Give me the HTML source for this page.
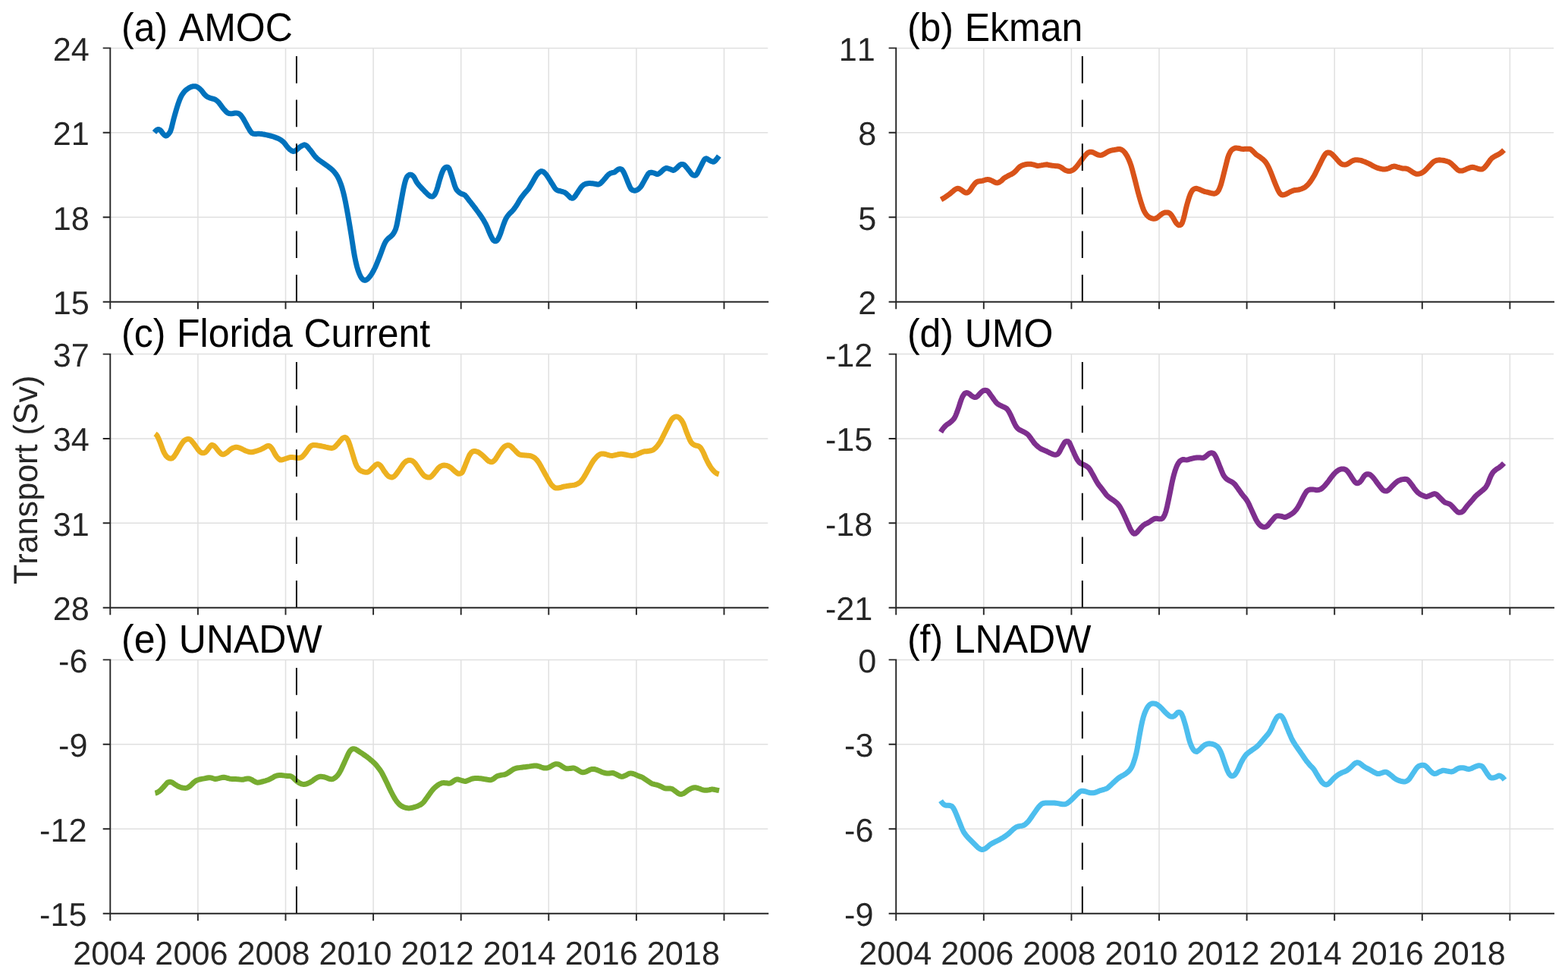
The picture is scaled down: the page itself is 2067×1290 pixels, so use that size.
<!DOCTYPE html>
<html lang="en">
<head>
<meta charset="utf-8">
<title>Transport time series</title>
<style>
html,body{margin:0;padding:0;background:#fff;}
body{width:2067px;height:1290px;overflow:hidden;}
svg{display:block;}
text{font-family:"Liberation Sans",Arial,Helvetica,sans-serif;font-kerning:none;text-rendering:geometricPrecision;}
.tk{font-size:43.2px;fill:#262626;}
.tt{font-size:50.0px;fill:#000;word-spacing:0.8px;}
.yl{font-size:43.1px;fill:#262626;}
.g{stroke:#e0e0e0;stroke-width:1.5;fill:none;}
.ax{stroke:#262626;stroke-width:1.9;fill:none;}
.dl{stroke:#000;stroke-width:1.9;fill:none;}
.cv{fill:none;stroke-width:7.0;stroke-linejoin:round;stroke-linecap:butt;}
</style>
</head>
<body>
<svg width="2067" height="1290" viewBox="0 0 2067 1290" role="img" aria-label="Transport time series, six panels">
<rect x="0" y="0" width="2067" height="1290" fill="#fff"/>
<g id="panel-a">
<path class="g" d="M260.9 63.4V397.7M376.5 63.4V397.7M492.1 63.4V397.7M607.7 63.4V397.7M723.3 63.4V397.7M838.9 63.4V397.7M954.5 63.4V397.7M145.3 63.4H1012.3M145.3 174.8H1012.3M145.3 286.3H1012.3"/>
<path class="cv" stroke="#0072BD" d="M203.5 174.5L205 172.7L206.5 171.4L208 170.6L209.5 170.5L211 171.3L212.5 172.8L214 175L215.5 176.8L217 178.2L218.5 179.1L220 178.7L221.5 177.3L223 175.7L224.5 173.3L226 168.9L227.5 162.7L229 156.6L230.5 151.3L232 146L233.5 141L235 136.4L236.5 132.2L238 128.6L239.5 125.7L241 123.3L242.5 121.3L244 119.7L245.5 118.4L247 117.3L248.5 116.2L250 115.3L251.5 114.6L253 114.1L254.5 113.8L256 113.7L257.5 113.7L259 114.1L260.5 114.8L262 115.8L263.5 117.1L265 118.6L266.5 120.3L268 122.3L269.5 124.3L271 125.8L272.5 127L274 127.9L275.5 128.6L277 129.2L278.5 129.6L280 130L281.5 130.4L283 130.9L284.5 131.7L286 132.8L287.5 134.1L289 135.8L290.5 137.8L292 139.9L293.5 141.9L295 143.7L296.5 145.4L298 147L299.5 148.3L301 149.1L302.5 149.6L304 149.8L305.5 149.7L307 149.5L308.5 149.2L310 148.9L311.5 148.9L313 149.1L314.5 149.6L316 150.5L317.5 151.9L319 153.8L320.5 156.1L322 158.7L323.5 161.4L325 164.2L326.5 167L328 169.6L329.5 172.1L331 174.2L332.5 175.6L334 176.2L335.5 176.4L337 176.5L338.5 176.4L340 176.2L341.5 176.2L343 176.4L344.5 176.5L346 176.8L347.5 177L349 177.3L350.5 177.6L352 177.9L353.5 178.3L355 178.6L356.5 179L358 179.4L359.5 179.8L361 180.3L362.5 180.9L364 181.4L365.5 182L367 182.7L368.5 183.4L370 184.3L371.5 185.4L373 186.6L374.5 188L376 189.9L377.5 191.9L379 193.8L380.5 195.5L382 196.9L383.5 198L385 198.9L386.5 199.4L388 199.3L389.5 198.6L391 197.4L392.5 196.1L394 194.8L395.5 193.6L397 192.6L398.5 191.8L400 191.1L401.5 190.8L403 191.3L404.5 192.4L406 194L407.5 195.9L409 197.7L410.5 199.7L412 201.7L413.5 203.8L415 205.7L416.5 207.4L418 208.8L419.5 210.1L421 211.2L422.5 212.3L424 213.4L425.5 214.4L427 215.5L428.5 216.5L430 217.6L431.5 218.6L433 219.7L434.5 220.9L436 222.1L437.5 223.4L439 224.8L440.5 226.4L442 228.3L443.5 230.4L445 232.7L446.5 235.7L448 239.2L449.5 243.1L451 247.7L452.5 253.1L454 259.4L455.5 266.5L457 274.4L458.5 282.6L460 291.4L461.5 300.3L463 309.5L464.5 319.3L466 329.1L467.5 337.8L469 345.1L470.5 351.2L472 356.2L473.5 360.3L475 363.7L476.5 366.3L478 368.1L479.5 369.1L481 369.4L482.5 369L484 368.1L485.5 366.7L487 365L488.5 363.1L490 360.9L491.5 358.3L493 355.5L494.5 352.5L496 349.1L497.5 345.4L499 341.7L500.5 337.9L502 334L503.5 329.9L505 325.8L506.5 322L508 318.9L509.5 316.7L511 315L512.5 313.6L514 312.5L515.5 311.3L517 309.8L518.5 307.8L520 305.4L521.5 302.1L523 296.8L524.5 289L526 280.7L527.5 272.5L529 264.2L530.5 256L532 248.1L533.5 241.5L535 236.3L536.5 233.1L538 231.3L539.5 230.3L541 230.1L542.5 230.5L544 231.5L545.5 233L547 235.6L548.5 238.6L550 241.1L551.5 242.9L553 244.7L554.5 246.4L556 248L557.5 249.6L559 251.2L560.5 252.8L562 254.3L563.5 255.7L565 257.1L566.5 258.3L568 258.9L569.5 259.1L571 258.6L572.5 257.1L574 254.6L575.5 251L577 246.2L578.5 240.8L580 235.6L581.5 230.9L583 226.7L584.5 223.5L586 221.6L587.5 220.4L589 220.1L590.5 220.5L592 222L593.5 225.8L595 230.3L596.5 235L598 240L599.5 244.8L601 248.5L602.5 250.8L604 252.3L605.5 253.6L607 254.7L608.5 255.5L610 255.9L611.5 256.4L613 257.3L614.5 259L616 260.9L617.5 262.8L619 264.8L620.5 266.7L622 268.6L623.5 270.5L625 272.5L626.5 274.4L628 276.5L629.5 278.5L631 280.5L632.5 282.6L634 284.8L635.5 287L637 289.3L638.5 291.9L640 294.6L641.5 297.7L643 301.2L644.5 304.9L646 308.4L647.5 311.6L649 314.5L650.5 316.7L652 317.7L653.5 317.8L655 317.1L656.5 315.1L658 312.1L659.5 308.5L661 304.1L662.5 299.5L664 295.2L665.5 291.2L667 288L668.5 285.5L670 283.5L671.5 281.8L673 280.3L674.5 278.9L676 277.2L677.5 275.4L679 273.4L680.5 271.2L682 268.9L683.5 266.3L685 263.7L686.5 261.4L688 259.3L689.5 257.3L691 255.4L692.5 253.6L694 252L695.5 250.3L697 248.3L698.5 245.9L700 243.4L701.5 240.9L703 238.2L704.5 235.5L706 232.9L707.5 230.6L709 228.8L710.5 227.3L712 226.2L713.5 225.6L715 225.8L716.5 226.5L718 227.8L719.5 229.4L721 231.3L722.5 233.6L724 236L725.5 238.4L727 240.8L728.5 243.2L730 245.6L731.5 248L733 249.7L734.5 250.7L736 251.2L737.5 251.5L739 251.9L740.5 252.3L742 252.7L743.5 253.2L745 253.9L746.5 255.1L748 256.5L749.5 257.9L751 259.5L752.5 260.8L754 261.3L755.5 261L757 259.9L758.5 258L760 255.7L761.5 253.5L763 251.2L764.5 249L766 246.8L767.5 245.1L769 243.8L770.5 242.9L772 242.3L773.5 242L775 241.7L776.5 241.6L778 241.6L779.5 241.7L781 241.8L782.5 242L784 242.2L785.5 242.5L787 242.9L788.5 243L790 242.6L791.5 241.7L793 240.3L794.5 238.7L796 237L797.5 235.2L799 233.4L800.5 231.6L802 230.1L803.5 229L805 228.2L806.5 227.7L808 227.4L809.5 227.1L811 226.3L812.5 224.9L814 223.7L815.5 223L817 222.6L818.5 222.7L820 223.6L821.5 225.7L823 228.6L824.5 232.1L826 235.8L827.5 239.6L829 243.3L830.5 246.6L832 249.3L833.5 250.4L835 250.9L836.5 251.2L838 251L839.5 250.5L841 249.7L842.5 248.4L844 246.9L845.5 244.9L847 242.3L848.5 239.6L850 236.8L851.5 234.2L853 231.5L854.5 229.1L856 227.7L857.5 227.3L859 227.3L860.5 227.6L862 227.9L863.5 228.5L865 229.2L866.5 229.5L868 229.1L869.5 228.1L871 226.9L872.5 225.5L874 224L875.5 222.8L877 221.9L878.5 221.5L880 221.7L881.5 222.2L883 222.7L884.5 223.3L886 223.9L887.5 224.4L889 223.9L890.5 222.8L892 221.6L893.5 220L895 218.4L896.5 217.2L898 216.6L899.5 216.5L901 216.7L902.5 217.7L904 219.4L905.5 221.2L907 223.1L908.5 225L910 227L911.5 229L913 230.4L914.5 231.1L916 231.3L917.5 230.7L919 228.8L920.5 225.9L922 222.9L923.5 219.9L925 216.9L926.5 213.9L928 211.1L929.5 209.3L931 208.8L932.5 209.4L934 210.4L935.5 211.3L937 212.1L938.5 212.8L940 213.3L941.5 213L943 211.6L944.5 209.9L946 208L947.5 205.9L947.8 205.5"/>
<path class="dl" d="M390.9 397.7V362M390.9 340.1V304.4M390.9 282.5V246.8M390.9 224.9V189.2M390.9 167.3V131.6M390.9 109.7V74"/>
<path class="ax" d="M145.3 62.4V397.7H1013.2M145.3 397.7V407.3M260.9 397.7V407.3M376.5 397.7V407.3M492.1 397.7V407.3M607.7 397.7V407.3M723.3 397.7V407.3M838.9 397.7V407.3M954.5 397.7V407.3M145.3 63.4H135.7M145.3 174.8H135.7M145.3 286.3H135.7M145.3 397.7H135.7"/>
<text class="tk" transform="translate(69.8 79.8) scale(1 1.0)">24</text>
<text class="tk" transform="translate(69.8 191.2) scale(1 1.0)">21</text>
<text class="tk" transform="translate(69.8 302.7) scale(1 1.0)">18</text>
<text class="tk" transform="translate(69.8 414.1) scale(1 1.0)">15</text>
<text class="tt" transform="translate(160 53.7) scale(1 1.05)">(a) AMOC</text>
</g>
<g id="panel-b">
<path class="g" d="M1296.8 63.4V397.7M1412.4 63.4V397.7M1528 63.4V397.7M1643.6 63.4V397.7M1759.2 63.4V397.7M1874.8 63.4V397.7M1990.4 63.4V397.7M1181.2 63.4H2048.2M1181.2 174.8H2048.2M1181.2 286.3H2048.2"/>
<path class="cv" stroke="#D95319" d="M1240.5 263L1242 262.2L1243.5 261.3L1245 260.4L1246.5 259.4L1248 258.4L1249.5 257.3L1251 256.2L1252.5 255.1L1254 253.8L1255.5 252.6L1257 251.3L1258.5 250.1L1260 249.2L1261.5 248.5L1263 248.3L1264.5 248.7L1266 249.5L1267.5 250.4L1269 251.5L1270.5 252.7L1272 253.7L1273.5 254.1L1275 254L1276.5 253.2L1278 251.8L1279.5 249.8L1281 247.5L1282.5 245.2L1284 243.3L1285.5 241.5L1287 240.2L1288.5 239.4L1290 238.9L1291.5 238.7L1293 238.6L1294.5 238.4L1296 238L1297.5 237.5L1299 237L1300.5 236.6L1302 236.4L1303.5 236.6L1305 237.1L1306.5 237.7L1308 238.4L1309.5 239.2L1311 240L1312.5 240.7L1314 240.9L1315.5 240.8L1317 240.2L1318.5 239.3L1320 238.2L1321.5 236.7L1323 235.2L1324.5 234.2L1326 233.3L1327.5 232.5L1329 231.7L1330.5 230.9L1332 230.2L1333.5 229.5L1335 228.6L1336.5 227.5L1338 226.2L1339.5 224.7L1341 223L1342.5 221.3L1344 220L1345.5 219L1347 218.2L1348.5 217.6L1350 217.1L1351.5 216.8L1353 216.5L1354.5 216.3L1356 216.2L1357.5 216.2L1359 216.3L1360.5 216.6L1362 216.9L1363.5 217.2L1365 217.7L1366.5 218.3L1368 218.6L1369.5 218.4L1371 218.1L1372.5 217.9L1374 217.6L1375.5 217.4L1377 217.1L1378.5 216.9L1380 216.8L1381.5 217.1L1383 217.5L1384.5 217.7L1386 218L1387.5 218.2L1389 218.4L1390.5 218.6L1392 218.7L1393.5 218.8L1395 219L1396.5 219.4L1398 220.1L1399.5 221L1401 222L1402.5 223.1L1404 224.1L1405.5 224.8L1407 225.3L1408.5 225.5L1410 225.5L1411.5 225.2L1413 224.6L1414.5 223.8L1416 222.8L1417.5 221.4L1419 219.7L1420.5 217.8L1422 215.9L1423.5 213.9L1425 211.9L1426.5 209.9L1428 207.9L1429.5 206L1431 204.3L1432.5 202.7L1434 201.4L1435.5 200.6L1437 200.2L1438.5 200.3L1440 200.5L1441.5 201.1L1443 201.8L1444.5 202.6L1446 203.4L1447.5 204L1449 204.4L1450.5 204.6L1452 204.4L1453.5 203.9L1455 203.2L1456.5 202.3L1458 201.3L1459.5 200.4L1461 199.7L1462.5 199L1464 198.4L1465.5 198.1L1467 197.8L1468.5 197.6L1470 197.3L1471.5 197.1L1473 196.7L1474.5 196.4L1476 196.4L1477.5 196.8L1479 197.6L1480.5 198.6L1482 200.1L1483.5 202L1485 204.3L1486.5 207L1488 210.2L1489.5 213.8L1491 218.1L1492.5 223.2L1494 228.8L1495.5 234.5L1497 240.4L1498.5 246.5L1500 252.4L1501.5 257.9L1503 263L1504.5 267.9L1506 272.4L1507.5 276.4L1509 279.5L1510.5 281.9L1512 283.8L1513.5 285.2L1515 286.3L1516.5 287.1L1518 287.7L1519.5 288.1L1521 288.3L1522.5 288.1L1524 287.6L1525.5 286.8L1527 285.7L1528.5 284.4L1530 283.1L1531.5 282L1533 281.1L1534.5 280.4L1536 280L1537.5 279.9L1539 280L1540.5 280.3L1542 281.1L1543.5 282.5L1545 284.6L1546.5 286.9L1548 289.6L1549.5 292.3L1551 294.4L1552.5 295.9L1554 296.8L1555.5 296.6L1557 295.8L1558.5 293.5L1560 289L1561.5 283.1L1563 276.4L1564.5 270.4L1566 265.1L1567.5 260.3L1569 256.1L1570.5 252.9L1572 250.7L1573.5 249.4L1575 248.7L1576.5 248.3L1578 248.5L1579.5 249L1581 249.5L1582.5 250.2L1584 250.8L1585.5 251.5L1587 252.1L1588.5 252.6L1590 252.9L1591.5 253.2L1593 253.6L1594.5 254L1596 254.4L1597.5 254.8L1599 255L1600.5 255.2L1602 254.9L1603.5 254.1L1605 252.9L1606.5 250.7L1608 247.4L1609.5 243.2L1611 237.8L1612.5 231.8L1614 225.8L1615.5 219.8L1617 213.8L1618.5 208L1620 203.7L1621.5 200.7L1623 198.4L1624.5 196.9L1626 196L1627.5 195.3L1629 195L1630.5 195.1L1632 195.3L1633.5 195.5L1635 195.9L1636.5 196.2L1638 196.4L1639.5 196.4L1641 196.3L1642.5 196.2L1644 196.2L1645.5 196.2L1647 196.2L1648.5 196.6L1650 197.7L1651.5 199.1L1653 200.6L1654.5 202.2L1656 203.6L1657.5 204.7L1659 205.7L1660.5 206.6L1662 207.7L1663.5 208.9L1665 210.1L1666.5 211.5L1668 213.1L1669.5 215.2L1671 217.7L1672.5 220.7L1674 224.1L1675.5 227.7L1677 231.6L1678.5 235.6L1680 239.4L1681.5 243.1L1683 246.6L1684.5 250.1L1686 253L1687.5 255.1L1689 256.5L1690.5 256.9L1692 256.8L1693.5 256.4L1695 255.9L1696.5 255.1L1698 254.3L1699.5 253.5L1701 252.7L1702.5 252.1L1704 251.4L1705.5 250.9L1707 250.5L1708.5 250.4L1710 250.2L1711.5 250L1713 249.7L1714.5 249.2L1716 248.7L1717.5 248.1L1719 247.4L1720.5 246.5L1722 245.3L1723.5 243.9L1725 242.3L1726.5 240.5L1728 238.4L1729.5 236.1L1731 233.7L1732.5 231.2L1734 228.3L1735.5 225.2L1737 222.2L1738.5 219.1L1740 216.1L1741.5 213L1743 210L1744.5 207.1L1746 204.6L1747.5 202.5L1749 201.4L1750.5 201L1752 201.1L1753.5 201.5L1755 202.4L1756.5 203.7L1758 205.2L1759.5 206.8L1761 208.4L1762.5 210.2L1764 211.9L1765.5 213.6L1767 215L1768.5 216.1L1770 216.7L1771.5 216.9L1773 217L1774.5 216.8L1776 216.2L1777.5 215.4L1779 214.4L1780.5 213.3L1782 212.3L1783.5 211.6L1785 211.1L1786.5 210.8L1788 210.7L1789.5 210.8L1791 210.9L1792.5 211.1L1794 211.4L1795.5 211.9L1797 212.5L1798.5 213L1800 213.6L1801.5 214.3L1803 214.9L1804.5 215.6L1806 216.4L1807.5 217.2L1809 218.1L1810.5 218.9L1812 219.6L1813.5 220.3L1815 220.9L1816.5 221.5L1818 221.9L1819.5 222.3L1821 222.6L1822.5 222.9L1824 223L1825.5 223L1827 222.8L1828.5 222.5L1830 222L1831.5 221.4L1833 220.6L1834.5 219.9L1836 219.4L1837.5 219.1L1839 219.2L1840.5 219.6L1842 220.1L1843.5 220.5L1845 220.9L1846.5 221.3L1848 221.7L1849.5 222L1851 222L1852.5 222L1854 222.3L1855.5 222.7L1857 223.4L1858.5 224.3L1860 225.3L1861.5 226.4L1863 227.3L1864.5 228.2L1866 228.9L1867.5 229.3L1869 229.3L1870.5 229.1L1872 228.7L1873.5 228.2L1875 227.4L1876.5 226.4L1878 225.2L1879.5 223.7L1881 222.2L1882.5 220.6L1884 219L1885.5 217.4L1887 215.8L1888.5 214.3L1890 213.1L1891.5 212.2L1893 211.6L1894.5 211.1L1896 210.9L1897.5 210.8L1899 210.9L1900.5 211.1L1902 211.3L1903.5 211.5L1905 211.9L1906.5 212.2L1908 212.7L1909.5 213.2L1911 214L1912.5 215.1L1914 216.4L1915.5 217.9L1917 219.3L1918.5 220.8L1920 222.3L1921.5 223.7L1923 224.6L1924.5 225.1L1926 225.1L1927.5 225L1929 224.6L1930.5 224L1932 223.3L1933.5 222.6L1935 222L1936.5 221.4L1938 220.9L1939.5 220.5L1941 220.3L1942.5 220.5L1944 220.9L1945.5 221.3L1947 221.8L1948.5 222.4L1950 222.8L1951.5 223L1953 223L1954.5 222.7L1956 221.7L1957.5 220.1L1959 218.4L1960.5 216.5L1962 214.4L1963.5 212.2L1965 210.1L1966.5 208.6L1968 207.4L1969.5 206.5L1971 205.7L1972.5 204.9L1974 204.1L1975.5 203.3L1977 202.4L1978.5 201.4L1980 200.2L1981.5 198.8L1982.6 197.7"/>
<path class="dl" d="M1426.8 397.7V362M1426.8 340.1V304.4M1426.8 282.5V246.8M1426.8 224.9V189.2M1426.8 167.3V131.6M1426.8 109.7V74"/>
<path class="ax" d="M1181.2 62.4V397.7H2049.1M1181.2 397.7V407.3M1296.8 397.7V407.3M1412.4 397.7V407.3M1528 397.7V407.3M1643.6 397.7V407.3M1759.2 397.7V407.3M1874.8 397.7V407.3M1990.4 397.7V407.3M1181.2 63.4H1171.6M1181.2 174.8H1171.6M1181.2 286.3H1171.6M1181.2 397.7H1171.6"/>
<text class="tk" transform="translate(1105.7 79.8) scale(1 1.0)">11</text>
<text class="tk" transform="translate(1131.2 191.2) scale(1 1.0)">8</text>
<text class="tk" transform="translate(1131.2 302.7) scale(1 1.0)">5</text>
<text class="tk" transform="translate(1131.2 414.1) scale(1 1.0)">2</text>
<text class="tt" transform="translate(1195.9 53.7) scale(1 1.05)">(b) Ekman</text>
</g>
<g id="panel-c">
<path class="g" d="M260.9 466.6V800.7M376.5 466.6V800.7M492.1 466.6V800.7M607.7 466.6V800.7M723.3 466.6V800.7M838.9 466.6V800.7M954.5 466.6V800.7M145.3 466.6H1012.3M145.3 578H1012.3M145.3 689.3H1012.3"/>
<path class="cv" stroke="#EDB120" d="M204.5 571.6L206 572.7L207.5 574.7L209 577.8L210.5 581.3L212 585.2L213.5 589.4L215 593.5L216.5 596.8L218 599.3L219.5 601.3L221 602.7L222.5 603.6L224 604.1L225.5 604.2L227 603.8L228.5 602.6L230 600.6L231.5 598.4L233 595.9L234.5 593.3L236 590.7L237.5 588L239 585.6L240.5 583.4L242 581.5L243.5 580.1L245 579.3L246.5 578.7L248 578.4L249.5 578.7L251 579.4L252.5 580.9L254 582.7L255.5 584.6L257 586.6L258.5 588.7L260 590.9L261.5 592.9L263 594.6L264.5 595.9L266 596.7L267.5 596.9L269 596.7L270.5 596.1L272 594.7L273.5 592.9L275 590.9L276.5 588.9L278 587L279.5 586.2L281 586.7L282.5 587.7L284 589.2L285.5 591.1L287 593.1L288.5 594.9L290 596.5L291.5 597.9L293 598.8L294.5 598.8L296 598.2L297.5 597.4L299 596.4L300.5 595.2L302 593.8L303.5 592.5L305 591.4L306.5 590.6L308 590L309.5 589.5L311 589.3L312.5 589.3L314 589.7L315.5 590.1L317 590.7L318.5 591.4L320 592.2L321.5 592.9L323 593.7L324.5 594.3L326 594.8L327.5 595.3L329 595.6L330.5 595.8L332 595.8L333.5 595.5L335 595.1L336.5 594.7L338 594.2L339.5 593.8L341 593.3L342.5 592.8L344 592.1L345.5 591.4L347 590.6L348.5 589.8L350 588.9L351.5 588L353 587.4L354.5 587.5L356 588.2L357.5 589.7L359 591.8L360.5 594.5L362 597.4L363.5 599.9L365 602L366.5 603.7L368 605L369.5 606L371 606.1L372.5 605.7L374 605.2L375.5 604.7L377 604.2L378.5 603.7L380 603.2L381.5 602.7L383 602.6L384.5 602.5L386 602.6L387.5 602.8L389 603L390.5 603.2L392 603.4L393.5 603.4L395 603.3L396.5 602.9L398 602.1L399.5 600.7L401 599L402.5 597.1L404 595.1L405.5 592.9L407 590.8L408.5 588.9L410 587.6L411.5 586.8L413 586.4L414.5 586.4L416 586.6L417.5 586.7L419 587L420.5 587.2L422 587.5L423.5 587.8L425 588.1L426.5 588.4L428 588.7L429.5 589.1L431 589.4L432.5 589.8L434 590.1L435.5 590.3L437 590.4L438.5 590.3L440 589.8L441.5 588.7L443 587.2L444.5 585.6L446 583.9L447.5 582.1L449 580.2L450.5 578.5L452 577.2L453.5 576.6L455 576.3L456.5 577.1L458 578.9L459.5 581.7L461 585.9L462.5 590.7L464 595.6L465.5 600.5L467 605.4L468.5 610.1L470 613.7L471.5 616.2L473 618.2L474.5 619.6L476 620.5L477.5 621.1L479 621.7L480.5 622.1L482 622.3L483.5 622.3L485 622L486.5 621.2L488 619.9L489.5 618.3L491 616.8L492.5 615.3L494 613.8L495.5 612.3L497 611.6L498.5 611.6L500 612.2L501.5 613.4L503 615.4L504.5 617.7L506 620.1L507.5 622.2L509 624.2L510.5 626L512 627.4L513.5 628.3L515 628.8L516.5 629L518 628.6L519.5 627.7L521 626.3L522.5 624.5L524 622.4L525.5 620.3L527 618.2L528.5 615.9L530 613.7L531.5 611.5L533 609.8L534.5 608.5L536 607.5L537.5 606.8L539 606.5L540.5 606.5L542 606.7L543.5 607.3L545 608.4L546.5 609.8L548 611.6L549.5 613.7L551 616L552.5 618.2L554 620.4L555.5 622.5L557 624.5L558.5 626.2L560 627.4L561.5 628.2L563 628.8L564.5 629.1L566 629.1L567.5 628.6L569 627.4L570.5 625.8L572 624.1L573.5 622.2L575 620.3L576.5 618.3L578 616.6L579.5 615.2L581 614.3L582.5 613.6L584 613.2L585.5 613.1L587 613.2L588.5 613.4L590 613.8L591.5 614.5L593 615.4L594.5 616.4L596 617.7L597.5 619.1L599 620.5L600.5 621.8L602 622.9L603.5 624L605 624.3L606.5 624L608 623.5L609.5 622.1L611 618.8L612.5 615.1L614 611.3L615.5 607.6L617 603.8L618.5 600.4L620 597.9L621.5 596.1L623 595L624.5 594.6L626 594.5L627.5 594.7L629 595.2L630.5 595.8L632 596.7L633.5 597.9L635 599.1L636.5 600.4L638 601.8L639.5 603.3L641 604.8L642.5 606.3L644 607.5L645.5 608.2L647 608.7L648.5 608.8L650 608.2L651.5 606.9L653 605.2L654.5 603L656 600.6L657.5 598.2L659 595.9L660.5 593.7L662 591.7L663.5 589.8L665 588.5L666.5 587.6L668 586.9L669.5 586.6L671 586.8L672.5 587.4L674 588.5L675.5 590L677 591.6L678.5 593.1L680 594.7L681.5 596.2L683 597.6L684.5 598.7L686 599.3L687.5 599.5L689 599.7L690.5 599.8L692 600L693.5 600.1L695 600.2L696.5 600.3L698 600.4L699.5 600.7L701 601.3L702.5 601.9L704 602.8L705.5 603.9L707 605.4L708.5 607.1L710 609.2L711.5 611.6L713 614.3L714.5 617.1L716 619.8L717.5 622.5L719 625.2L720.5 627.9L722 630.6L723.5 633.3L725 635.9L726.5 638.2L728 639.9L729.5 641.3L731 642.4L732.5 643L734 643.1L735.5 643L737 642.8L738.5 642.5L740 642.1L741.5 641.6L743 641.2L744.5 640.9L746 640.7L747.5 640.4L749 640.2L750.5 640L752 639.8L753.5 639.6L755 639.4L756.5 639.2L758 638.9L759.5 638.4L761 637.7L762.5 636.9L764 635.9L765.5 634.6L767 632.8L768.5 630.7L770 628.4L771.5 625.9L773 623.2L774.5 620.5L776 617.8L777.5 615.1L779 612.4L780.5 609.8L782 607.4L783.5 605.5L785 603.7L786.5 602L788 600.6L789.5 599.4L791 598.5L792.5 598L794 597.9L795.5 597.9L797 598.2L798.5 598.5L800 599L801.5 599.5L803 599.9L804.5 600.2L806 600.4L807.5 600.4L809 600.1L810.5 599.8L812 599.4L813.5 599.1L815 598.7L816.5 598.4L818 598.3L819.5 598.3L821 598.4L822.5 598.7L824 599L825.5 599.3L827 599.6L828.5 599.9L830 600.1L831.5 600.3L833 600.4L834.5 600.3L836 600L837.5 599.6L839 599L840.5 598.3L842 597.6L843.5 597L845 596.3L846.5 595.7L848 595.2L849.5 594.8L851 594.7L852.5 594.7L854 594.5L855.5 594.3L857 594L858.5 593.8L860 593.3L861.5 592.4L863 591.3L864.5 589.9L866 588.2L867.5 586.3L869 584.1L870.5 581.8L872 579L873.5 576L875 573L876.5 570L878 567L879.5 564L881 561L882.5 558L884 555L885.5 552.6L887 551L888.5 549.8L890 549.1L891.5 548.9L893 549.1L894.5 549.8L896 551L897.5 552.7L899 554.7L900.5 557.3L902 560.9L903.5 565.1L905 569.2L906.5 573L908 576.7L909.5 580.1L911 582.7L912.5 584.4L914 585.6L915.5 586.4L917 587L918.5 587.3L920 587.6L921.5 588.2L923 589.4L924.5 591.4L926 594L927.5 597L929 600.5L930.5 604L932 607.1L933.5 610L935 612.7L936.5 615.1L938 617.3L939.5 619.2L941 620.8L942.5 622.2L944 623.3L945.5 624.1L947 624.6L947.7 624.8"/>
<path class="dl" d="M390.9 800.7V765M390.9 743.1V707.4M390.9 685.5V649.8M390.9 627.9V592.2M390.9 570.3V534.6M390.9 512.7V477"/>
<path class="ax" d="M145.3 465.7V800.7H1013.2M145.3 800.7V810.3M260.9 800.7V810.3M376.5 800.7V810.3M492.1 800.7V810.3M607.7 800.7V810.3M723.3 800.7V810.3M838.9 800.7V810.3M954.5 800.7V810.3M145.3 466.6H135.7M145.3 578H135.7M145.3 689.3H135.7M145.3 800.7H135.7"/>
<text class="tk" transform="translate(69.8 483) scale(1 1.0)">37</text>
<text class="tk" transform="translate(69.8 594.4) scale(1 1.0)">34</text>
<text class="tk" transform="translate(69.8 705.7) scale(1 1.0)">31</text>
<text class="tk" transform="translate(69.8 817.1) scale(1 1.0)">28</text>
<text class="tt" transform="translate(160 456.9) scale(1 1.05)">(c) Florida Current</text>
</g>
<g id="panel-d">
<path class="g" d="M1296.8 466.6V800.7M1412.4 466.6V800.7M1528 466.6V800.7M1643.6 466.6V800.7M1759.2 466.6V800.7M1874.8 466.6V800.7M1990.4 466.6V800.7M1181.2 466.6H2048.2M1181.2 578H2048.2M1181.2 689.3H2048.2"/>
<path class="cv" stroke="#7E2F8E" d="M1240.1 569.4L1241.6 566.9L1243.1 564.7L1244.6 563L1246.1 561.4L1247.6 560L1249.1 558.9L1250.6 558L1252.1 557L1253.6 555.8L1255.1 554.4L1256.6 552.9L1258.1 550.9L1259.6 548L1261.1 544.2L1262.6 540.1L1264.1 535.8L1265.6 531.2L1267.1 526.7L1268.6 523L1270.1 520.4L1271.6 518.6L1273.1 517.7L1274.6 517.6L1276.1 518L1277.6 518.8L1279.1 520L1280.6 521.4L1282.1 522.4L1283.6 523.1L1285.1 523.5L1286.6 523.3L1288.1 522.5L1289.6 521.1L1291.1 519.3L1292.6 517.7L1294.1 516.3L1295.6 515.2L1297.1 514.4L1298.6 514.3L1300.1 514.5L1301.6 514.9L1303.1 516.5L1304.6 518.6L1306.1 520.7L1307.6 522.8L1309.1 524.9L1310.6 527L1312.1 529L1313.6 530.9L1315.1 532.2L1316.6 533.1L1318.1 533.9L1319.6 534.6L1321.1 535.4L1322.6 536.1L1324.1 536.7L1325.6 537.5L1327.1 538.5L1328.6 540.3L1330.1 542.6L1331.6 545.5L1333.1 548.6L1334.6 552L1336.1 555.4L1337.6 558.6L1339.1 561.4L1340.6 563.5L1342.1 565L1343.6 566.1L1345.1 566.9L1346.6 567.7L1348.1 568.4L1349.6 569.2L1351.1 569.9L1352.6 570.8L1354.1 571.8L1355.6 573.2L1357.1 575.1L1358.6 577.1L1360.1 579.2L1361.6 581.3L1363.1 583.4L1364.6 585.1L1366.1 586.6L1367.6 588L1369.1 589.2L1370.6 590.3L1372.1 591.3L1373.6 592.1L1375.1 592.7L1376.6 593.3L1378.1 594L1379.6 594.6L1381.1 595.4L1382.6 596.1L1384.1 596.9L1385.6 597.6L1387.1 598.2L1388.6 598.8L1390.1 599.2L1391.6 599.2L1393.1 598.9L1394.6 598.1L1396.1 596.2L1397.6 593.5L1399.1 590.5L1400.6 587.8L1402.1 585.1L1403.6 582.7L1405.1 581.7L1406.6 581.6L1408.1 581.8L1409.6 583.1L1411.1 586.3L1412.6 589.7L1414.1 593.1L1415.6 596.4L1417.1 599.8L1418.6 603L1420.1 605.7L1421.6 607.9L1423.1 609.5L1424.6 610.7L1426.1 611.4L1427.6 611.9L1429.1 612.5L1430.6 613.3L1432.1 614.1L1433.6 615.2L1435.1 616.5L1436.6 618.4L1438.1 620.9L1439.6 623.6L1441.1 626.3L1442.6 629L1444.1 631.8L1445.6 634.5L1447.1 637L1448.6 639.1L1450.1 641L1451.6 642.9L1453.1 644.9L1454.6 646.9L1456.1 648.9L1457.6 650.9L1459.1 652.7L1460.6 654.1L1462.1 655.4L1463.6 656.5L1465.1 657.5L1466.6 658.4L1468.1 659.5L1469.6 660.6L1471.1 661.9L1472.6 663.2L1474.1 664.8L1475.6 666.8L1477.1 669.3L1478.6 672.1L1480.1 675.1L1481.6 678.2L1483.1 681.5L1484.6 684.8L1486.1 688.1L1487.6 691.5L1489.1 694.9L1490.6 698L1492.1 700.4L1493.6 702.3L1495.1 703.3L1496.6 703.1L1498.1 702L1499.6 700.6L1501.1 698.8L1502.6 697L1504.1 695.2L1505.6 693.7L1507.1 692.3L1508.6 691.2L1510.1 690.3L1511.6 689.7L1513.1 689L1514.6 688.1L1516.1 687.1L1517.6 686L1519.1 685.1L1520.6 684.2L1522.1 683.5L1523.6 683.2L1525.1 683.3L1526.6 683.6L1528.1 683.8L1529.6 683.8L1531.1 683.7L1532.6 682.9L1534.1 680.7L1535.6 677.7L1537.1 673.3L1538.6 667.1L1540.1 660.2L1541.6 653L1543.1 645.5L1544.6 637.9L1546.1 631L1547.6 625.2L1549.1 620.1L1550.6 615.8L1552.1 612.4L1553.6 609.8L1555.1 607.9L1556.6 606.8L1558.1 605.9L1559.6 605.5L1561.1 605.6L1562.6 605.9L1564.1 606.1L1565.6 605.8L1567.1 605.4L1568.6 604.9L1570.1 604.5L1571.6 604.1L1573.1 603.8L1574.6 603.4L1576.1 603.2L1577.6 603L1579.1 603L1580.6 603L1582.1 603.1L1583.6 603.2L1585.1 603.4L1586.6 603.2L1588.1 602.4L1589.6 601.2L1591.1 600L1592.6 598.7L1594.1 597.5L1595.6 597L1597.1 596.8L1598.6 596.9L1600.1 597.8L1601.6 599.8L1603.1 602.6L1604.6 606.2L1606.1 609.9L1607.6 613.7L1609.1 617.4L1610.6 621.2L1612.1 624.7L1613.6 627.3L1615.1 629.2L1616.6 630.7L1618.1 631.9L1619.6 632.9L1621.1 633.6L1622.6 634.3L1624.1 635.2L1625.6 636.2L1627.1 637.4L1628.6 639.1L1630.1 641.2L1631.6 643.3L1633.1 645.4L1634.6 647.5L1636.1 649.6L1637.6 651.7L1639.1 653.6L1640.6 655.3L1642.1 657.1L1643.6 659.2L1645.1 661.7L1646.6 664.8L1648.1 668.1L1649.6 671.4L1651.1 674.7L1652.6 678L1654.1 681.3L1655.6 684.5L1657.1 687.1L1658.6 689.3L1660.1 691.1L1661.6 692.5L1663.1 693.5L1664.6 694.2L1666.1 694.4L1667.6 694.3L1669.1 694L1670.6 693.1L1672.1 691.4L1673.6 689.6L1675.1 687.8L1676.6 686L1678.1 684.2L1679.6 682.4L1681.1 680.8L1682.6 680L1684.1 679.8L1685.6 679.8L1687.1 679.9L1688.6 680.1L1690.1 680.5L1691.6 681L1693.1 681.5L1694.6 681.4L1696.1 680.9L1697.6 680.2L1699.1 679.4L1700.6 678.5L1702.1 677.6L1703.6 676.6L1705.1 675.4L1706.6 674L1708.1 672.3L1709.6 670.3L1711.1 668.1L1712.6 665.5L1714.1 662.6L1715.6 659.6L1717.1 656.6L1718.6 653.7L1720.1 651L1721.6 648.6L1723.1 646.8L1724.6 645.8L1726.1 645.3L1727.6 645L1729.1 644.9L1730.6 644.9L1732.1 645.1L1733.6 645.4L1735.1 645.7L1736.6 645.7L1738.1 645.6L1739.6 645.2L1741.1 644.5L1742.6 643.5L1744.1 642.2L1745.6 640.8L1747.1 639.1L1748.6 637.3L1750.1 635.5L1751.6 633.5L1753.1 631.4L1754.6 629.4L1756.1 627.4L1757.6 625.6L1759.1 623.9L1760.6 622.4L1762.1 621.1L1763.6 620L1765.1 619.2L1766.6 618.5L1768.1 618L1769.6 617.9L1771.1 617.9L1772.6 618.3L1774.1 619L1775.6 620.2L1777.1 621.9L1778.6 624L1780.1 626.2L1781.6 628.6L1783.1 630.9L1784.6 633.2L1786.1 635.1L1787.6 636.4L1789.1 636.8L1790.6 636.5L1792.1 635.6L1793.6 634.2L1795.1 632.3L1796.6 629.8L1798.1 627.5L1799.6 626L1801.1 625L1802.6 624.7L1804.1 624.8L1805.6 625.2L1807.1 626.2L1808.6 627.6L1810.1 629.2L1811.6 631L1813.1 633L1814.6 635.1L1816.1 637.2L1817.6 639.2L1819.1 641.1L1820.6 642.9L1822.1 644.7L1823.6 646.1L1825.1 646.8L1826.6 647L1828.1 646.9L1829.6 646.3L1831.1 645.1L1832.6 643.5L1834.1 641.8L1835.6 640.3L1837.1 638.8L1838.6 637.3L1840.1 635.9L1841.6 634.7L1843.1 633.7L1844.6 633L1846.1 632.4L1847.6 631.9L1849.1 631.6L1850.6 631.4L1852.1 631.3L1853.6 631.4L1855.1 631.9L1856.6 633.2L1858.1 634.9L1859.6 636.8L1861.1 638.8L1862.6 640.9L1864.1 643.1L1865.6 645.1L1867.1 646.9L1868.6 648.5L1870.1 649.8L1871.6 650.9L1873.1 651.8L1874.6 652.5L1876.1 653.1L1877.6 653.7L1879.1 654.3L1880.6 654.5L1882.1 654L1883.6 653.4L1885.1 652.8L1886.6 652.2L1888.1 651.6L1889.6 651L1891.1 650.6L1892.6 650.9L1894.1 651.8L1895.6 653.3L1897.1 654.8L1898.6 656.3L1900.1 657.8L1901.6 659.3L1903.1 660.8L1904.6 661.9L1906.1 662.5L1907.6 663L1909.1 663.5L1910.6 664L1912.1 664.9L1913.6 666.4L1915.1 668L1916.6 669.6L1918.1 671.3L1919.6 672.9L1921.1 674.4L1922.6 675.2L1924.1 675.3L1925.6 675.1L1927.1 674.6L1928.6 673.6L1930.1 671.9L1931.6 669.8L1933.1 667.8L1934.6 666L1936.1 664.3L1937.6 662.6L1939.1 660.9L1940.6 659.2L1942.1 657.4L1943.6 655.6L1945.1 653.9L1946.6 652.5L1948.1 651.2L1949.6 650L1951.1 648.8L1952.6 647.5L1954.1 646.3L1955.6 645L1957.1 643.7L1958.6 641.9L1960.1 639.5L1961.6 636.4L1963.1 632.4L1964.6 628.8L1966.1 625.6L1967.6 623.1L1969.1 621.3L1970.6 619.9L1972.1 618.7L1973.6 617.7L1975.1 616.8L1976.6 615.8L1978.1 614.6L1979.6 613.3L1981.1 611.9L1982.6 610.3"/>
<path class="dl" d="M1426.8 800.7V765M1426.8 743.1V707.4M1426.8 685.5V649.8M1426.8 627.9V592.2M1426.8 570.3V534.6M1426.8 512.7V477"/>
<path class="ax" d="M1181.2 465.7V800.7H2049.1M1181.2 800.7V810.3M1296.8 800.7V810.3M1412.4 800.7V810.3M1528 800.7V810.3M1643.6 800.7V810.3M1759.2 800.7V810.3M1874.8 800.7V810.3M1990.4 800.7V810.3M1181.2 466.6H1171.6M1181.2 578H1171.6M1181.2 689.3H1171.6M1181.2 800.7H1171.6"/>
<text class="tk" transform="translate(1087.9 483) scale(1 1.0)">-12</text>
<text class="tk" transform="translate(1087.9 594.4) scale(1 1.0)">-15</text>
<text class="tk" transform="translate(1087.9 705.7) scale(1 1.0)">-18</text>
<text class="tk" transform="translate(1087.9 817.1) scale(1 1.0)">-21</text>
<text class="tt" transform="translate(1195.9 456.9) scale(1 1.05)">(d) UMO</text>
</g>
<g id="panel-e">
<path class="g" d="M260.9 869.4V1203.7M376.5 869.4V1203.7M492.1 869.4V1203.7M607.7 869.4V1203.7M723.3 869.4V1203.7M838.9 869.4V1203.7M954.5 869.4V1203.7M145.3 869.4H1012.3M145.3 980.8H1012.3M145.3 1092.3H1012.3"/>
<path class="cv" stroke="#77AC30" d="M204.5 1045.1L206 1044.8L207.5 1044.2L209 1043.2L210.5 1042.1L212 1040.8L213.5 1039.2L215 1037.6L216.5 1035.9L218 1034.2L219.5 1032.5L221 1031L222.5 1030.4L224 1030.3L225.5 1030.5L227 1031.1L228.5 1032L230 1033.1L231.5 1034.1L233 1035L234.5 1035.8L236 1036.6L237.5 1037.2L239 1037.7L240.5 1038L242 1038.2L243.5 1038.4L245 1038.4L246.5 1038.1L248 1037.4L249.5 1036.4L251 1035.2L252.5 1033.8L254 1032.3L255.5 1030.8L257 1029.7L258.5 1028.7L260 1028L261.5 1027.5L263 1027L264.5 1026.7L266 1026.4L267.5 1026.1L269 1025.9L270.5 1025.6L272 1025.3L273.5 1025L275 1024.7L276.5 1024.7L278 1024.9L279.5 1025.2L281 1025.7L282.5 1026.2L284 1026.5L285.5 1026.3L287 1025.9L288.5 1025.6L290 1025.2L291.5 1024.8L293 1024.5L294.5 1024.2L296 1024.3L297.5 1024.7L299 1025.1L300.5 1025.5L302 1025.9L303.5 1026.2L305 1026.4L306.5 1026.4L308 1026.4L309.5 1026.5L311 1026.6L312.5 1026.7L314 1026.8L315.5 1026.9L317 1027.1L318.5 1027.3L320 1027.3L321.5 1027L323 1026.5L324.5 1026.2L326 1026L327.5 1025.9L329 1026.2L330.5 1026.8L332 1027.5L333.5 1028.5L335 1029.4L336.5 1030.2L338 1030.8L339.5 1031.2L341 1031.1L342.5 1030.8L344 1030.4L345.5 1030L347 1029.6L348.5 1029.2L350 1028.8L351.5 1028.3L353 1027.8L354.5 1027.2L356 1026.5L357.5 1025.7L359 1024.9L360.5 1024L362 1023.1L363.5 1022.5L365 1022L366.5 1021.7L368 1021.6L369.5 1021.5L371 1021.6L372.5 1021.7L374 1021.9L375.5 1022.1L377 1022.3L378.5 1022.5L380 1022.5L381.5 1022.5L383 1022.7L384.5 1023.4L386 1024.4L387.5 1025.8L389 1027.4L390.5 1028.7L392 1029.9L393.5 1031L395 1031.9L396.5 1032.6L398 1033.1L399.5 1033.4L401 1033.4L402.5 1033.3L404 1032.9L405.5 1032.4L407 1031.7L408.5 1031L410 1030.1L411.5 1029.1L413 1028L414.5 1026.8L416 1025.8L417.5 1024.9L419 1024.2L420.5 1023.6L422 1023.3L423.5 1023.3L425 1023.4L426.5 1023.6L428 1024L429.5 1024.5L431 1025.1L432.5 1025.7L434 1026.3L435.5 1026.6L437 1026.8L438.5 1026.6L440 1025.9L441.5 1024.9L443 1023.7L444.5 1022.3L446 1020.4L447.5 1018.1L449 1015.4L450.5 1012.3L452 1009L453.5 1005.7L455 1002.4L456.5 999.1L458 995.8L459.5 992.6L461 990L462.5 988.2L464 987.1L465.5 986.7L467 986.8L468.5 987.2L470 988L471.5 989L473 990L474.5 991L476 991.9L477.5 992.9L479 994L480.5 995L482 996L483.5 997.1L485 998.3L486.5 999.4L488 1000.7L489.5 1001.9L491 1003.2L492.5 1004.6L494 1006L495.5 1007.6L497 1009.4L498.5 1011.3L500 1013.3L501.5 1015.4L503 1017.7L504.5 1020.5L506 1023.4L507.5 1026.4L509 1029.5L510.5 1032.6L512 1035.8L513.5 1039L515 1042.1L516.5 1045L518 1047.8L519.5 1050.6L521 1053.1L522.5 1055.4L524 1057.3L525.5 1059L527 1060.4L528.5 1061.6L530 1062.5L531.5 1063.2L533 1063.8L534.5 1064.3L536 1064.6L537.5 1064.8L539 1064.9L540.5 1064.8L542 1064.6L543.5 1064.3L545 1063.9L546.5 1063.5L548 1063L549.5 1062.5L551 1061.9L552.5 1061.2L554 1060.5L555.5 1059.5L557 1058.4L558.5 1056.9L560 1054.9L561.5 1052.8L563 1050.7L564.5 1048.6L566 1046.5L567.5 1044.4L569 1042.4L570.5 1040.5L572 1038.9L573.5 1037.5L575 1036.2L576.5 1035L578 1034L579.5 1033.1L581 1032.4L582.5 1031.8L584 1031.6L585.5 1031.6L587 1031.7L588.5 1031.8L590 1032L591.5 1032.2L593 1032L594.5 1031.4L596 1030.5L597.5 1029.5L599 1028.4L600.5 1027.5L602 1027L603.5 1027L605 1027.4L606.5 1027.8L608 1028.3L609.5 1028.7L611 1029.1L612.5 1029.4L614 1029.4L615.5 1028.9L617 1028.3L618.5 1027.7L620 1027.1L621.5 1026.4L623 1026L624.5 1025.7L626 1025.6L627.5 1025.6L629 1025.6L630.5 1025.6L632 1025.7L633.5 1025.8L635 1026L636.5 1026.2L638 1026.5L639.5 1026.7L641 1027L642.5 1027.3L644 1027.5L645.5 1027.7L647 1027.8L648.5 1027.3L650 1026.4L651.5 1025.5L653 1024.3L654.5 1023.2L656 1022.5L657.5 1022L659 1021.7L660.5 1021.3L662 1021.1L663.5 1020.9L665 1020.7L666.5 1020.2L668 1019.4L669.5 1018.5L671 1017.5L672.5 1016.5L674 1015.5L675.5 1014.4L677 1013.5L678.5 1012.8L680 1012.4L681.5 1012L683 1011.8L684.5 1011.6L686 1011.4L687.5 1011.2L689 1011L690.5 1010.8L692 1010.7L693.5 1010.5L695 1010.3L696.5 1010.1L698 1009.9L699.5 1009.6L701 1009.4L702.5 1009.2L704 1009.1L705.5 1009L707 1009L708.5 1009.3L710 1009.7L711.5 1010.1L713 1010.7L714.5 1011.2L716 1011.7L717.5 1012L719 1012.1L720.5 1012.1L722 1011.7L723.5 1011.2L725 1010.5L726.5 1009.6L728 1008.7L729.5 1007.8L731 1007.1L732.5 1006.8L734 1006.7L735.5 1006.9L737 1007.4L738.5 1008.1L740 1009.1L741.5 1010.2L743 1011.2L744.5 1012L746 1012.7L747.5 1012.8L749 1012.8L750.5 1012.6L752 1012.5L753.5 1012.2L755 1012L756.5 1012L758 1012.5L759.5 1013.3L761 1014.1L762.5 1015.2L764 1016.2L765.5 1016.9L767 1017.5L768.5 1017.7L770 1017.6L771.5 1017.2L773 1016.7L774.5 1015.9L776 1015.1L777.5 1014.3L779 1013.8L780.5 1013.4L782 1013.4L783.5 1013.5L785 1013.9L786.5 1014.3L788 1014.9L789.5 1015.6L791 1016.2L792.5 1016.9L794 1017.5L795.5 1018L797 1018.4L798.5 1018.8L800 1018.9L801.5 1018.9L803 1019L804.5 1018.8L806 1018.6L807.5 1018.5L809 1018.8L810.5 1019.4L812 1020.1L813.5 1020.9L815 1021.7L816.5 1022.5L818 1023.1L819.5 1023.4L821 1023.2L822.5 1022.7L824 1022L825.5 1021.3L827 1020.5L828.5 1019.7L830 1019.1L831.5 1018.9L833 1019.1L834.5 1019.5L836 1020L837.5 1020.6L839 1021.3L840.5 1021.9L842 1022.6L843.5 1023.1L845 1023.6L846.5 1024.2L848 1025.1L849.5 1026.1L851 1027.1L852.5 1028.1L854 1029.1L855.5 1030.1L857 1031.1L858.5 1032.1L860 1032.8L861.5 1033.2L863 1033.6L864.5 1033.9L866 1034.2L867.5 1034.7L869 1035.3L870.5 1036L872 1036.7L873.5 1037.5L875 1038.2L876.5 1038.8L878 1039L879.5 1039L881 1039L882.5 1039.1L884 1039.1L885.5 1039.4L887 1040.2L888.5 1041.3L890 1042.4L891.5 1043.5L893 1044.6L894.5 1045.7L896 1046.4L897.5 1046.6L899 1046.3L900.5 1045.8L902 1045L903.5 1043.9L905 1042.8L906.5 1041.6L908 1040.6L909.5 1039.8L911 1039L912.5 1038.4L914 1038L915.5 1037.8L917 1037.8L918.5 1038.1L920 1038.5L921.5 1039L923 1039.6L924.5 1040.2L926 1040.7L927.5 1041.1L929 1041.3L930.5 1041.3L932 1041.2L933.5 1041.1L935 1040.9L936.5 1040.4L938 1040.1L939.5 1040.1L941 1040.3L942.5 1040.6L944 1040.9L945.5 1041.2L947 1041.4L948 1041.6"/>
<path class="dl" d="M390.9 1203.7V1168M390.9 1146.1V1110.4M390.9 1088.5V1052.8M390.9 1030.9V995.2M390.9 973.3V937.6M390.9 915.7V880"/>
<path class="ax" d="M145.3 868.4V1203.7H1013.2M145.3 1203.7V1213.3M260.9 1203.7V1213.3M376.5 1203.7V1213.3M492.1 1203.7V1213.3M607.7 1203.7V1213.3M723.3 1203.7V1213.3M838.9 1203.7V1213.3M954.5 1203.7V1213.3M145.3 869.4H135.7M145.3 980.8H135.7M145.3 1092.3H135.7M145.3 1203.7H135.7"/>
<text class="tk" transform="translate(77.1 885.8) scale(1 1.0)">-6</text>
<text class="tk" transform="translate(77.1 997.2) scale(1 1.0)">-9</text>
<text class="tk" transform="translate(52 1108.7) scale(1 1.0)">-12</text>
<text class="tk" transform="translate(52 1220.1) scale(1 1.0)">-15</text>
<text class="tk" transform="translate(96.3 1271.2) scale(1 1.0)">2004 2006 2008 2010 2012 2014 2016 2018</text>
<text class="tt" transform="translate(160 859.7) scale(1 1.05)">(e) UNADW</text>
</g>
<g id="panel-f">
<path class="g" d="M1296.8 869.4V1203.7M1412.4 869.4V1203.7M1528 869.4V1203.7M1643.6 869.4V1203.7M1759.2 869.4V1203.7M1874.8 869.4V1203.7M1990.4 869.4V1203.7M1181.2 869.4H2048.2M1181.2 980.8H2048.2M1181.2 1092.3H2048.2"/>
<path class="cv" stroke="#4DBEEE" d="M1240.1 1055.1L1241.6 1057.3L1243.1 1059L1244.6 1060.2L1246.1 1061.1L1247.6 1061.3L1249.1 1061.2L1250.6 1061.2L1252.1 1061.5L1253.6 1061.9L1255.1 1062.7L1256.6 1064.5L1258.1 1067.2L1259.6 1070.5L1261.1 1074.1L1262.6 1077.9L1264.1 1081.6L1265.6 1085.4L1267.1 1089.1L1268.6 1092.8L1270.1 1095.8L1271.6 1098.2L1273.1 1100.2L1274.6 1102L1276.1 1103.8L1277.6 1105.3L1279.1 1106.8L1280.6 1108.3L1282.1 1109.8L1283.6 1111.3L1285.1 1112.8L1286.6 1114.3L1288.1 1115.8L1289.6 1117.2L1291.1 1118.2L1292.6 1119L1294.1 1119.5L1295.6 1119.4L1297.1 1118.9L1298.6 1118.3L1300.1 1117.3L1301.6 1116.1L1303.1 1114.7L1304.6 1113.3L1306.1 1112.3L1307.6 1111.4L1309.1 1110.6L1310.6 1109.8L1312.1 1109L1313.6 1108.3L1315.1 1107.6L1316.6 1106.9L1318.1 1106.1L1319.6 1105.2L1321.1 1104.4L1322.6 1103.5L1324.1 1102.5L1325.6 1101.5L1327.1 1100.4L1328.6 1099.3L1330.1 1098L1331.6 1096.6L1333.1 1095.1L1334.6 1093.7L1336.1 1092.4L1337.6 1091.3L1339.1 1090.2L1340.6 1089.5L1342.1 1089L1343.6 1088.6L1345.1 1088.4L1346.6 1088.2L1348.1 1087.9L1349.6 1087.4L1351.1 1086.5L1352.6 1085.3L1354.1 1083.9L1355.6 1082.3L1357.1 1080.4L1358.6 1078.2L1360.1 1076.1L1361.6 1073.9L1363.1 1071.8L1364.6 1069.6L1366.1 1067.5L1367.6 1065.3L1369.1 1063.4L1370.6 1061.7L1372.1 1060.2L1373.6 1059.1L1375.1 1058.5L1376.6 1058.2L1378.1 1058.1L1379.6 1058L1381.1 1057.9L1382.6 1057.9L1384.1 1057.9L1385.6 1057.9L1387.1 1057.9L1388.6 1057.9L1390.1 1058L1391.6 1058.2L1393.1 1058.4L1394.6 1058.6L1396.1 1058.9L1397.6 1059.2L1399.1 1059.5L1400.6 1059.8L1402.1 1059.8L1403.6 1059.7L1405.1 1059.4L1406.6 1058.7L1408.1 1057.6L1409.6 1056.4L1411.1 1055.1L1412.6 1053.7L1414.1 1052.2L1415.6 1050.7L1417.1 1049.2L1418.6 1047.7L1420.1 1046.3L1421.6 1044.9L1423.1 1043.5L1424.6 1042.6L1426.1 1042.2L1427.6 1042.3L1429.1 1042.5L1430.6 1042.8L1432.1 1043.2L1433.6 1043.7L1435.1 1044.2L1436.6 1044.6L1438.1 1044.8L1439.6 1044.8L1441.1 1044.7L1442.6 1044.5L1444.1 1044.1L1445.6 1043.6L1447.1 1043L1448.6 1042.3L1450.1 1041.7L1451.6 1041.3L1453.1 1040.9L1454.6 1040.5L1456.1 1040L1457.6 1039.5L1459.1 1038.8L1460.6 1037.8L1462.1 1036.5L1463.6 1035.1L1465.1 1033.7L1466.6 1032.3L1468.1 1030.9L1469.6 1029.5L1471.1 1028.1L1472.6 1026.7L1474.1 1025.5L1475.6 1024.5L1477.1 1023.5L1478.6 1022.6L1480.1 1021.8L1481.6 1021L1483.1 1020.1L1484.6 1019L1486.1 1017.8L1487.6 1016.5L1489.1 1015L1490.6 1012.9L1492.1 1010.4L1493.6 1006.9L1495.1 1002.4L1496.6 997.4L1498.1 991.6L1499.6 984L1501.1 974.7L1502.6 966.3L1504.1 958.3L1505.6 951.2L1507.1 945.3L1508.6 940.6L1510.1 936.9L1511.6 933.8L1513.1 931.2L1514.6 929.4L1516.1 928.1L1517.6 927.4L1519.1 927L1520.6 926.9L1522.1 927.1L1523.6 927.5L1525.1 928.2L1526.6 929.2L1528.1 930.3L1529.6 931.6L1531.1 933.1L1532.6 934.7L1534.1 936.4L1535.6 938L1537.1 939.5L1538.6 940.9L1540.1 942.3L1541.6 943.4L1543.1 944.1L1544.6 944.3L1546.1 944.2L1547.6 943.6L1549.1 942.5L1550.6 940.6L1552.1 939.1L1553.6 938.5L1555.1 938.5L1556.6 939.4L1558.1 941.7L1559.6 945.4L1561.1 950.2L1562.6 955.3L1564.1 960.8L1565.6 966.8L1567.1 972.9L1568.6 978L1570.1 982L1571.6 985.3L1573.1 987.8L1574.6 989.4L1576.1 990.3L1577.6 990.4L1579.1 989.5L1580.6 988.4L1582.1 987L1583.6 985.5L1585.1 983.9L1586.6 982.7L1588.1 981.7L1589.6 980.9L1591.1 980.3L1592.6 979.9L1594.1 979.8L1595.6 979.9L1597.1 980.1L1598.6 980.5L1600.1 981L1601.6 981.7L1603.1 982.6L1604.6 983.6L1606.1 985.2L1607.6 987.5L1609.1 990.4L1610.6 994L1612.1 998.3L1613.6 1002.8L1615.1 1007.3L1616.6 1011.5L1618.1 1015.5L1619.6 1018.6L1621.1 1020.7L1622.6 1022.1L1624.1 1022.6L1625.6 1022.3L1627.1 1021.5L1628.6 1019.9L1630.1 1017.5L1631.6 1014.8L1633.1 1011.5L1634.6 1008L1636.1 1004.8L1637.6 1002L1639.1 999.4L1640.6 997.1L1642.1 995.1L1643.6 993.4L1645.1 992.2L1646.6 991.1L1648.1 990L1649.6 989L1651.1 987.9L1652.6 986.8L1654.1 985.8L1655.6 984.7L1657.1 983.5L1658.6 982.2L1660.1 980.6L1661.6 978.9L1663.1 977.1L1664.6 975.4L1666.1 973.6L1667.6 971.9L1669.1 970.1L1670.6 968.4L1672.1 966.6L1673.6 964.3L1675.1 961.7L1676.6 958.6L1678.1 955.1L1679.6 951.8L1681.1 948.9L1682.6 946.2L1684.1 944.3L1685.6 943.4L1687.1 942.9L1688.6 943.2L1690.1 944.6L1691.6 946.9L1693.1 950.1L1694.6 953.8L1696.1 957.6L1697.6 961.2L1699.1 964.9L1700.6 968.4L1702.1 971.9L1703.6 975L1705.1 977.7L1706.6 980L1708.1 982.3L1709.6 984.5L1711.1 986.6L1712.6 988.8L1714.1 990.9L1715.6 993.1L1717.1 995.3L1718.6 997.5L1720.1 999.7L1721.6 1001.8L1723.1 1003.8L1724.6 1005.6L1726.1 1007.4L1727.6 1009.1L1729.1 1010.5L1730.6 1012.1L1732.1 1013.9L1733.6 1016.3L1735.1 1018.9L1736.6 1021.4L1738.1 1023.9L1739.6 1026.3L1741.1 1028.6L1742.6 1030.6L1744.1 1032L1745.6 1033.1L1747.1 1033.8L1748.6 1033.9L1750.1 1033.4L1751.6 1032.5L1753.1 1031.1L1754.6 1029.4L1756.1 1027.8L1757.6 1026.3L1759.1 1024.8L1760.6 1023.4L1762.1 1022.2L1763.6 1021.1L1765.1 1020.1L1766.6 1019.3L1768.1 1018.5L1769.6 1017.8L1771.1 1017.3L1772.6 1016.7L1774.1 1016.1L1775.6 1015.2L1777.1 1014.1L1778.6 1012.9L1780.1 1011.6L1781.6 1010.1L1783.1 1008.6L1784.6 1007.1L1786.1 1005.9L1787.6 1005.1L1789.1 1004.8L1790.6 1005L1792.1 1005.6L1793.6 1006.5L1795.1 1007.7L1796.6 1009L1798.1 1010.1L1799.6 1011L1801.1 1011.8L1802.6 1012.6L1804.1 1013.4L1805.6 1014.2L1807.1 1015.1L1808.6 1015.9L1810.1 1016.8L1811.6 1017.6L1813.1 1018.4L1814.6 1019.1L1816.1 1019.6L1817.6 1019.6L1819.1 1019.3L1820.6 1018.8L1822.1 1018.3L1823.6 1017.7L1825.1 1017.3L1826.6 1017.2L1828.1 1017.6L1829.6 1018.5L1831.1 1019.6L1832.6 1020.8L1834.1 1021.9L1835.6 1023.2L1837.1 1024.5L1838.6 1025.7L1840.1 1026.7L1841.6 1027.5L1843.1 1028.1L1844.6 1028.6L1846.1 1029.1L1847.6 1029.5L1849.1 1029.8L1850.6 1030.1L1852.1 1030L1853.6 1029.5L1855.1 1028.7L1856.6 1027.6L1858.1 1026L1859.6 1023.8L1861.1 1021.5L1862.6 1019.2L1864.1 1017L1865.6 1014.7L1867.1 1012.5L1868.6 1010.7L1870.1 1009.6L1871.6 1009L1873.1 1008.4L1874.6 1008.2L1876.1 1008.2L1877.6 1008.5L1879.1 1009.2L1880.6 1010.4L1882.1 1012L1883.6 1013.7L1885.1 1015.4L1886.6 1016.9L1888.1 1018.2L1889.6 1019.2L1891.1 1019.6L1892.6 1019.4L1894.1 1018.8L1895.6 1018L1897.1 1017.2L1898.6 1016.5L1900.1 1015.9L1901.6 1015.3L1903.1 1015.2L1904.6 1015.4L1906.1 1015.7L1907.6 1016.1L1909.1 1016.3L1910.6 1016.6L1912.1 1016.8L1913.6 1016.9L1915.1 1016.5L1916.6 1015.8L1918.1 1015L1919.6 1014L1921.1 1013.1L1922.6 1012.4L1924.1 1012L1925.6 1011.7L1927.1 1011.7L1928.6 1011.8L1930.1 1012L1931.6 1012.4L1933.1 1012.9L1934.6 1013.3L1936.1 1013.4L1937.6 1013.3L1939.1 1012.8L1940.6 1012.2L1942.1 1011.4L1943.6 1010.7L1945.1 1010.1L1946.6 1009.5L1948.1 1008.9L1949.6 1008.7L1951.1 1008.9L1952.6 1009.2L1954.1 1010.1L1955.6 1011.8L1957.1 1014.1L1958.6 1016.5L1960.1 1018.8L1961.6 1021L1963.1 1023L1964.6 1024.5L1966.1 1025.1L1967.6 1025.1L1969.1 1024.8L1970.6 1024.4L1972.1 1023.9L1973.6 1023.1L1975.1 1022.3L1976.6 1022L1978.1 1022.5L1979.6 1023.4L1981.1 1024.7L1982.6 1026.5L1983.5 1027.7"/>
<path class="dl" d="M1426.8 1203.7V1168M1426.8 1146.1V1110.4M1426.8 1088.5V1052.8M1426.8 1030.9V995.2M1426.8 973.3V937.6M1426.8 915.7V880"/>
<path class="ax" d="M1181.2 868.4V1203.7H2049.1M1181.2 1203.7V1213.3M1296.8 1203.7V1213.3M1412.4 1203.7V1213.3M1528 1203.7V1213.3M1643.6 1203.7V1213.3M1759.2 1203.7V1213.3M1874.8 1203.7V1213.3M1990.4 1203.7V1213.3M1181.2 869.4H1171.6M1181.2 980.8H1171.6M1181.2 1092.3H1171.6M1181.2 1203.7H1171.6"/>
<text class="tk" transform="translate(1131.2 885.8) scale(1 1.0)">0</text>
<text class="tk" transform="translate(1113 997.2) scale(1 1.0)">-3</text>
<text class="tk" transform="translate(1113 1108.7) scale(1 1.0)">-6</text>
<text class="tk" transform="translate(1113 1220.1) scale(1 1.0)">-9</text>
<text class="tk" transform="translate(1132.2 1271.2) scale(1 1.0)">2004 2006 2008 2010 2012 2014 2016 2018</text>
<text class="tt" transform="translate(1195.9 859.7) scale(1 1.05)">(f) LNADW</text>
</g>
<text class="yl" text-anchor="middle" transform="translate(49 632.3) rotate(-90) scale(1 1.03)">Transport (Sv)</text>
</svg>
</body>
</html>
